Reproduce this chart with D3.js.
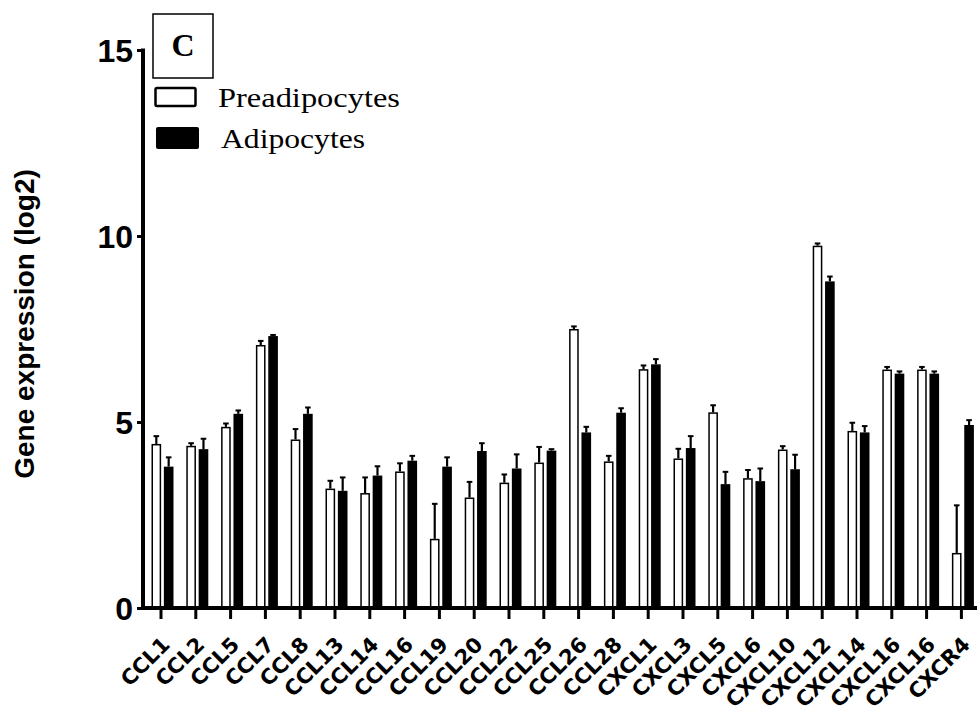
<!DOCTYPE html>
<html>
<head>
<meta charset="utf-8">
<script src="https://cdn.jsdelivr.net/npm/d3@7"></script>
<style>
  html, body { margin: 0; padding: 0; background: #fff; }
  svg { display: block; }
</style>
</head>
<body>
<svg id="chart" width="977" height="711"></svg>
<script>
const categories = ["CCL1","CCL2","CCL5","CCL7","CCL8","CCL13","CCL14","CCL16","CCL19","CCL20","CCL22","CCL25","CCL26","CCL28","CXCL1","CXCL3","CXCL5","CXCL6","CXCL10","CXCL12","CXCL14","CXCL16","CXCL16","CXCR4"];
const preadipocytes = [4.41,4.36,4.87,7.07,4.53,3.21,3.09,3.67,1.86,2.97,3.37,3.91,7.50,3.94,6.42,4.02,5.26,3.49,4.26,9.74,4.76,6.41,6.41,1.48];
const preadipocytesErr = [0.21,0.07,0.09,0.11,0.28,0.21,0.42,0.22,0.94,0.42,0.22,0.42,0.07,0.15,0.10,0.26,0.19,0.22,0.09,0.06,0.22,0.07,0.07,1.28];
const adipocytes = [3.80,4.27,5.22,7.31,5.22,3.15,3.56,3.96,3.80,4.22,3.75,4.23,4.72,5.25,6.55,4.30,3.33,3.41,3.73,8.78,4.72,6.30,6.30,4.92];
const adipocytesErr = [0.25,0.28,0.09,0.03,0.17,0.36,0.25,0.13,0.25,0.21,0.38,0.04,0.15,0.12,0.14,0.32,0.33,0.34,0.39,0.13,0.17,0.06,0.06,0.13];
const seriesNames = ["Preadipocytes","Adipocytes"];
const yTicks = [0,5,10,15];
const panelLabel = "C";
const yTitle = "Gene expression (log2)";

const svg = d3.select("#chart");
const idx = d3.range(categories.length);

const x = d3.scaleBand().domain(idx).range([143.6, 978.8]).padding(0);
const sub = d3.scaleBand().domain([0,1]).range([-9.5, 12.5]).paddingInner(0.22);
const y = d3.scaleLinear().domain([0,15]).range([608, 50]);

const data = [];
idx.forEach(i => {
  data.push({i, s:0, v:preadipocytes[i], e:preadipocytesErr[i]});
  data.push({i, s:1, v:adipocytes[i], e:adipocytesErr[i]});
});
const cx = i => x(i) + x.bandwidth()/2;

// error bars
const eb = svg.append("g");
data.forEach(d => {
  const ex = cx(d.i) + sub(d.s) + sub.bandwidth()/2;
  eb.append("line").attr("x1", ex).attr("x2", ex)
    .attr("y1", y(d.v)).attr("y2", y(d.v + d.e))
    .attr("stroke", "#000").attr("stroke-width", 2.2);
  eb.append("line").attr("x1", ex-2.8).attr("x2", ex+2.8)
    .attr("y1", y(d.v + d.e)).attr("y2", y(d.v + d.e))
    .attr("stroke", "#000").attr("stroke-width", 2);
});

// bars
svg.append("g").selectAll("rect").data(data).join("rect")
  .attr("x", d => cx(d.i) + sub(d.s) + (d.s===0 ? 0.75 : 0))
  .attr("width", d => sub.bandwidth() - (d.s===0 ? 1.5 : 0))
  .attr("y", d => y(d.v) + (d.s===0 ? 0.75 : 0))
  .attr("height", d => y(0) - y(d.v) - (d.s===0 ? 0.75 : 0))
  .attr("fill", d => d.s===0 ? "#fff" : "#000")
  .attr("stroke", d => d.s===0 ? "#000" : "none")
  .attr("stroke-width", 1.5);

// y axis
const yAxis = svg.append("g").attr("transform", "translate(143,0)")
  .call(d3.axisLeft(y).tickValues(yTicks).tickSize(6).tickSizeOuter(0).tickPadding(4));
yAxis.select(".domain").attr("stroke-width", 4).attr("d", `M0,${y(15)-1.5}V${y(0)+2}`);
yAxis.selectAll(".tick line").attr("stroke-width", 3);
yAxis.selectAll(".tick text")
  .attr("font-family", "'Liberation Sans', Arial, sans-serif")
  .attr("font-weight", "bold").attr("font-size", 32).attr("fill", "#000")
  .attr("x", -10).attr("dy", "0.36em");

// x axis
const xAxis = svg.append("g").attr("transform", "translate(0,608)")
  .call(d3.axisBottom(x).tickSize(11).tickSizeOuter(0).tickFormat(i => categories[i]));
xAxis.select(".domain").attr("stroke-width", 4).attr("d", "M141,0H977");
xAxis.selectAll(".tick line").attr("stroke-width", 3);
xAxis.selectAll(".tick text")
  .attr("font-family", "'DejaVu Sans', Verdana, sans-serif")
  .attr("font-weight", "bold").attr("font-size", 21).attr("fill", "#000")
  .attr("text-anchor", "end")
  .attr("y", 0).attr("dy", 0)
  .attr("transform", "translate(10,38) rotate(-45)");

// y title
svg.append("text")
  .attr("transform", "translate(34,324) rotate(-90)")
  .attr("text-anchor", "middle")
  .attr("font-family", "'Liberation Sans', Arial, sans-serif")
  .attr("font-weight", "bold").attr("font-size", 28)
  .text(yTitle);

// panel label box
svg.append("rect").attr("x", 153).attr("y", 14).attr("width", 60).attr("height", 64)
  .attr("fill", "#fff").attr("stroke", "#000").attr("stroke-width", 1.5);
svg.append("text").attr("x", 183).attr("y", 56).attr("text-anchor", "middle")
  .attr("font-family", "'Liberation Serif', 'Times New Roman', serif")
  .attr("font-weight", "bold").attr("font-size", 32).text(panelLabel);

// legend
const leg = svg.append("g");
leg.append("rect").attr("x", 155.5).attr("y", 88).attr("width", 40).attr("height", 18)
  .attr("fill", "#fff").attr("stroke", "#000").attr("stroke-width", 2.5).attr("rx", 1.5);
leg.append("rect").attr("x", 156).attr("y", 127).attr("width", 43).attr("height", 22)
  .attr("fill", "#000").attr("rx", 2);
leg.append("text").attr("x", 218).attr("y", 107)
  .attr("font-family", "'Liberation Serif', 'Times New Roman', serif")
  .attr("font-size", 28).attr("textLength", 182).attr("lengthAdjust", "spacingAndGlyphs")
  .text(seriesNames[0]);
leg.append("text").attr("x", 221).attr("y", 148)
  .attr("font-family", "'Liberation Serif', 'Times New Roman', serif")
  .attr("font-size", 28).attr("textLength", 144).attr("lengthAdjust", "spacingAndGlyphs")
  .text(seriesNames[1]);
</script>
</body>
</html>
